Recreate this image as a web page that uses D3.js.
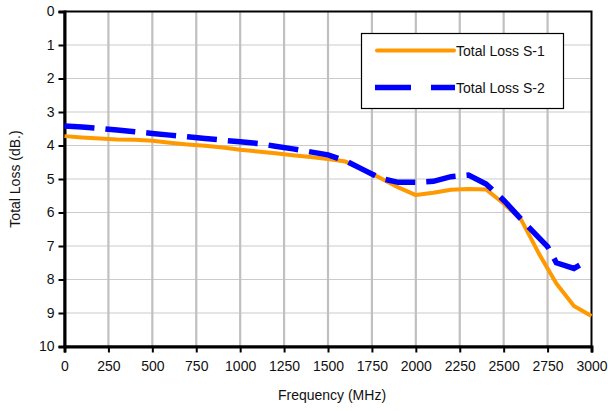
<html>
<head>
<script src="https://cdnjs.cloudflare.com/ajax/libs/d3/7.8.5/d3.min.js"></script>
<style>
body { margin: 0; background: white; }
text { font-family: "Liberation Sans", Arial, sans-serif; }
</style>
</head>
<body></body>
<script>
// readings
var freqS1 = [0,100,200,300,400,500,600,700,800,900,1000,1100,1200,1300,1400,1500,1600,1700,1800,1900,2000,2100,2200,2300,2400,2500,2600,2700,2800,2900,3000];
var lossS1 = [3.72,3.76,3.79,3.82,3.83,3.86,3.92,3.97,4.01,4.06,4.13,4.18,4.23,4.29,4.34,4.40,4.48,4.71,4.98,5.25,5.48,5.41,5.32,5.30,5.31,5.73,6.22,7.22,8.12,8.79,9.09];
var freqS2 = [0,100,200,300,400,500,600,700,800,900,1000,1100,1200,1300,1400,1500,1600,1700,1800,1900,2000,2100,2200,2300,2400,2500,2600,2700,2750,2800,2900,2950];
var lossS2 = [3.42,3.45,3.49,3.54,3.59,3.64,3.69,3.74,3.79,3.84,3.89,3.94,4.02,4.10,4.19,4.28,4.46,4.72,4.98,5.10,5.10,5.07,4.93,4.88,5.15,5.63,6.20,6.75,7.02,7.50,7.67,7.52];
var xTicks = d3.range(0, 3001, 250);
var yTicks = d3.range(0, 11, 1);
var seriesNames = ["Total Loss S-1", "Total Loss S-2"];

var W = 608, H = 411;
var m = {left: 64.5, right: 591.5, top: 11.5, bottom: 346.5};

var svg = d3.select("body").append("svg")
  .attr("width", W).attr("height", H);

var x = d3.scaleLinear().domain([0, 3000]).range([m.left, m.right]);
var y = d3.scaleLinear().domain([0, 10]).range([m.top, m.bottom]);

// grid
svg.append("g").selectAll("line").data(yTicks.slice(1, -1)).enter().append("line")
  .attr("x1", m.left).attr("x2", m.right)
  .attr("y1", function(d) { return y(d); }).attr("y2", function(d) { return y(d); })
  .attr("stroke", "#cbcbcb").attr("stroke-width", 1.2);
svg.append("g").selectAll("line").data(xTicks.slice(1, -1)).enter().append("line")
  .attr("y1", m.top).attr("y2", m.bottom)
  .attr("x1", function(d) { return x(d); }).attr("x2", function(d) { return x(d); })
  .attr("stroke", "#c0c0c0").attr("stroke-width", 2.2);

// plot border
svg.append("rect")
  .attr("x", m.left).attr("y", m.top)
  .attr("width", m.right - m.left).attr("height", m.bottom - m.top)
  .attr("fill", "none").attr("stroke", "black").attr("stroke-width", 2);

// axes
var yAxis = d3.axisLeft(y).tickValues(yTicks).tickSize(6).tickPadding(4);
var gy = svg.append("g").attr("transform", "translate(" + m.left + ",0)").call(yAxis);
var xAxis = d3.axisBottom(x).tickValues(xTicks).tickFormat(d3.format("d")).tickSize(6).tickPadding(9);
var gx = svg.append("g").attr("transform", "translate(0," + m.bottom + ")").call(xAxis);
[gx, gy].forEach(function(g) {
  g.select(".domain").attr("stroke", "black").attr("stroke-width", 3);
  g.selectAll(".tick line").attr("stroke", "black").attr("stroke-width", 2);
  g.selectAll("text").attr("font-size", 14).attr("fill", "#111")
    .style("font-family", "'Liberation Sans', Arial, sans-serif");
});

// lines
var line = d3.line().x(function(d) { return x(d[0]); }).y(function(d) { return y(d[1]); });
svg.append("path")
  .datum(d3.zip(freqS1, lossS1))
  .attr("d", line).attr("fill", "none")
  .attr("stroke", "#FF9900").attr("stroke-width", 4).attr("stroke-linejoin", "round");
svg.append("path")
  .datum(d3.zip(freqS2, lossS2))
  .attr("d", line).attr("fill", "none")
  .attr("stroke", "#0000FF").attr("stroke-width", 5.5)
  .attr("stroke-dasharray", "30,11");

// axis titles
svg.append("text").attr("x", 332).attr("y", 400)
  .attr("text-anchor", "middle").attr("font-size", 14).attr("fill", "#111")
  .text("Frequency (MHz)");
svg.append("text").attr("transform", "translate(20,179) rotate(-90)")
  .attr("text-anchor", "middle").attr("font-size", 14).attr("fill", "#111")
  .text("Total Loss (dB.)");

// legend
var lg = svg.append("g");
lg.append("rect").attr("x", 361.5).attr("y", 33.5).attr("width", 202).attr("height", 75)
  .attr("fill", "white").attr("stroke", "black").attr("stroke-width", 1.2);
lg.append("line").attr("x1", 377).attr("x2", 454).attr("y1", 50.5).attr("y2", 50.5)
  .attr("stroke", "#FF9900").attr("stroke-width", 4).attr("stroke-linecap", "round");
lg.append("line").attr("x1", 375).attr("x2", 455).attr("y1", 87.5).attr("y2", 87.5)
  .attr("stroke", "#0000FF").attr("stroke-width", 5.5).attr("stroke-dasharray", "36,20");
lg.selectAll("text.lab").data(seriesNames).enter().append("text")
  .attr("x", 456).attr("y", function(d, i) { return i === 0 ? 55.5 : 92.5; })
  .attr("font-size", 14).attr("fill", "#111")
  .text(function(d) { return d; });
</script>
</html>
